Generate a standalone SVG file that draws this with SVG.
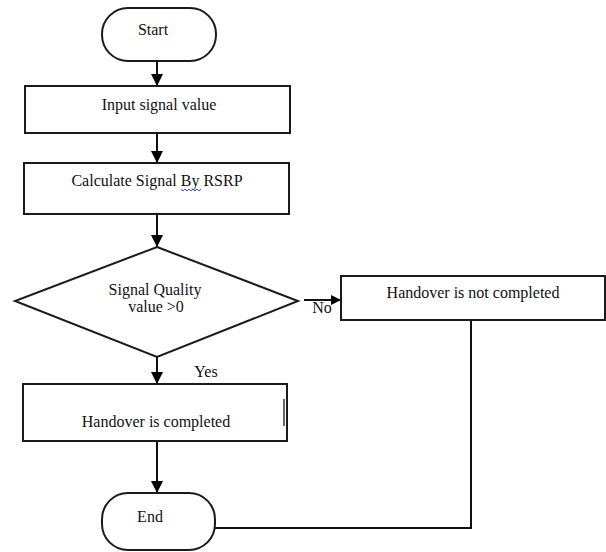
<svg xmlns="http://www.w3.org/2000/svg" width="606" height="552" viewBox="0 0 606 552">
<style>
.shape{fill:#fff;stroke:#1a1a1a;stroke-width:2}
.conn{fill:none;stroke:#111;stroke-width:2}
text{font-family:"Liberation Serif","Times New Roman",serif;font-size:16px;fill:#111;text-anchor:middle}
</style>
<defs>
<marker id="arr" markerWidth="10" markerHeight="10" viewBox="0 0 10 10" refX="10" refY="5" orient="auto" markerUnits="userSpaceOnUse">
<path d="M0,0 L10,5 L0,10 Z" fill="#000"/>
</marker>
<marker id="arrBig" markerWidth="12" markerHeight="12" viewBox="0 0 12 12" refX="12" refY="6" orient="auto" markerUnits="userSpaceOnUse">
<path d="M0,0 L12,6 L0,12 Z" fill="#000"/>
</marker>
</defs>
<rect width="606" height="552" fill="#fff"/>
<g id="connectors">
<line class="conn" x1="157" y1="61" x2="157" y2="86" marker-end="url(#arrBig)"/>
<line class="conn" x1="157" y1="133" x2="157" y2="163" marker-end="url(#arrBig)"/>
<line class="conn" x1="157" y1="214" x2="157" y2="247" marker-end="url(#arrBig)"/>
<line class="conn" x1="157" y1="357" x2="157" y2="384" marker-end="url(#arrBig)"/>
<line class="conn" x1="157" y1="441" x2="157" y2="493" marker-end="url(#arrBig)"/>
<line class="conn" x1="304" y1="300" x2="341" y2="300" marker-end="url(#arr)"/>
<polyline class="conn" points="471,320 471,528 215,528"/>
<text x="322" y="313">No</text>
<text x="206" y="377">Yes</text>
</g>
<g id="start">
<rect class="shape" x="102" y="8" width="114" height="53" rx="26" ry="26"/>
<text x="153" y="35">Start</text>
</g>
<g id="input">
<rect class="shape" x="25" y="86" width="265" height="47"/>
<text x="159" y="110">Input signal value</text>
</g>
<g id="calculate">
<rect class="shape" x="24" y="163" width="265" height="51"/>
<text x="157" y="186">Calculate Signal By RSRP</text>
<polyline points="181,189 183,191 185,189 187,191 189,189 191,191 193,189 195,191 197,189 199,191 201,189" fill="none" stroke="#3a5bd9" stroke-width="1"/>
</g>
<g id="decision">
<polygon class="shape" points="157,247 298,301 157,357 15,301"/>
<text x="155" y="295">Signal Quality</text>
<text x="156" y="312">value &gt;0</text>
</g>
<g id="not-completed">
<rect class="shape" x="341" y="276" width="264" height="44"/>
<text x="473" y="298">Handover is not completed</text>
</g>
<g id="completed">
<rect class="shape" x="23" y="384" width="264" height="57"/>
<line x1="284" y1="399" x2="284" y2="426" stroke="#333" stroke-width="1.5"/>
<text x="156" y="427">Handover is completed</text>
</g>
<g id="end">
<rect class="shape" x="102" y="493" width="113" height="57" rx="26" ry="26"/>
<text x="150" y="522">End</text>
</g>
</svg>
